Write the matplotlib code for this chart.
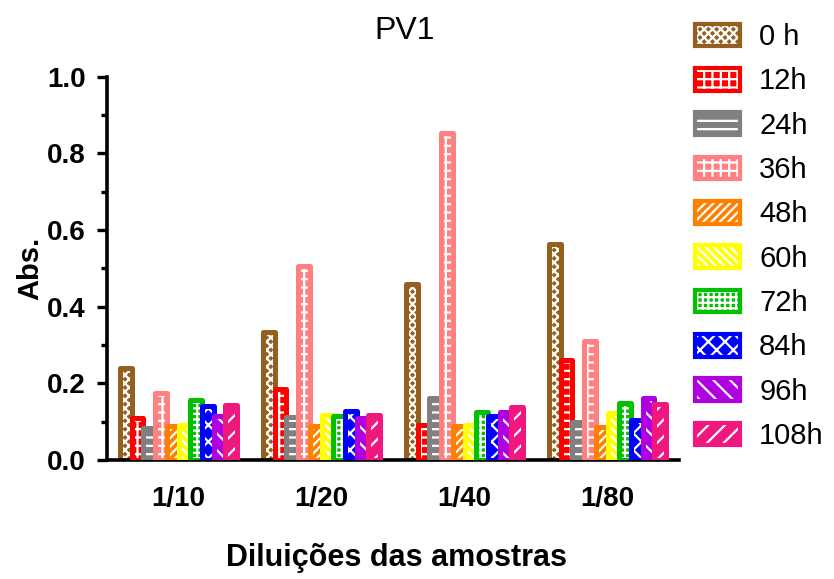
import matplotlib
matplotlib.use("Agg")
import matplotlib.pyplot as plt
from matplotlib.patches import Patch
from matplotlib.legend_handler import HandlerTuple
from matplotlib.ticker import MultipleLocator, FormatStrFormatter
import numpy as np

plt.rcParams['font.family'] = ['Liberation Sans', 'DejaVu Sans']
plt.rcParams['hatch.linewidth'] = 1.6

# data
dilutions = ['1/10', '1/20', '1/40', '1/80']
times = ['0 h', '12h', '24h', '36h', '48h', '60h', '72h', '84h', '96h', '108h']

abs_0h = [0.240, 0.333, 0.459, 0.564]
abs_12h = [0.110, 0.185, 0.092, 0.260]
abs_24h = [0.083, 0.113, 0.162, 0.100]
abs_36h = [0.174, 0.507, 0.853, 0.311]
abs_48h = [0.088, 0.088, 0.088, 0.085]
abs_60h = [0.091, 0.118, 0.091, 0.122]
abs_72h = [0.157, 0.114, 0.125, 0.149]
abs_84h = [0.142, 0.128, 0.114, 0.104]
abs_96h = [0.116, 0.110, 0.126, 0.161]
abs_108h = [0.144, 0.118, 0.139, 0.145]

series = [abs_0h, abs_12h, abs_24h, abs_36h, abs_48h,
          abs_60h, abs_72h, abs_84h, abs_96h, abs_108h]

colors = ['#94601F', '#FF0000', '#808080', '#FF8080', '#FF8000',
          '#FFFF00', '#00C000', '#0000FF', '#B000E0', '#F0187F']
hatches = ['xxxx', '++', '--', '++', '////',
           '\\\\\\\\', '+++', 'xx', '\\\\', '//']

fig = plt.figure(figsize=(8.34, 5.79), dpi=100)
ax = fig.add_axes([107 / 834, 119 / 579, (679 - 107) / 834, (460 - 76.7) / 579])

x = np.arange(len(dilutions))
w = 0.082
handles = []
for i, (vals, c, h) in enumerate(zip(series, colors, hatches)):
    pos = x + (i - 4.5) * w
    ax.bar(pos, vals, width=w, color=c, edgecolor='white', linewidth=0,
           hatch=h, zorder=2 + i)
    ax.bar(pos, vals, width=w, facecolor='none', edgecolor=c, linewidth=3.6,
           joinstyle='round', zorder=2 + i)
    p1 = Patch(facecolor=c, edgecolor='white', linewidth=0, hatch=h)
    p2 = Patch(facecolor='none', edgecolor=c, linewidth=3.0, joinstyle='round')
    handles.append((p1, p2))

ax.set_xlim(-0.5, 3.5)
ax.set_ylim(0, 1.0)
ax.yaxis.set_major_locator(MultipleLocator(0.2))
ax.yaxis.set_minor_locator(MultipleLocator(0.1))
ax.yaxis.set_major_formatter(FormatStrFormatter('%.1f'))
ax.set_xticks(x)
ax.set_xticklabels(dilutions)

for s in ['top', 'right']:
    ax.spines[s].set_visible(False)
for s in ['left', 'bottom']:
    ax.spines[s].set_linewidth(2.6)

ax.tick_params(axis='y', which='major', length=7, width=2.4, pad=8.5,
               labelsize=20)
ax.tick_params(axis='y', which='minor', length=4.5, width=2.4)
ax.tick_params(axis='x', length=0, pad=19, labelsize=20)
for lab in ax.get_xticklabels() + ax.get_yticklabels():
    lab.set_fontweight('bold')

ax.set_ylabel('Abs.', fontsize=21, fontweight='bold', labelpad=1.5)
fig.text(397 / 834, 1 - 558 / 579, 'Diluições das amostras', fontsize=22,
         fontweight='bold', ha='center', va='center')
fig.text(405 / 834, 1 - 31 / 579, 'PV1', fontsize=23, ha='center', va='center')

fig.legend(handles, times, handler_map={tuple: HandlerTuple(ndivide=1)},
           loc='upper left', bbox_to_anchor=(695 / 834, 1 - 23 / 579),
           frameon=False, fontsize=21, borderpad=0, borderaxespad=0,
           handlelength=1.55, handleheight=0.82, handletextpad=0.65,
           labelspacing=0.56)

fig.savefig('out.png', dpi=100)
